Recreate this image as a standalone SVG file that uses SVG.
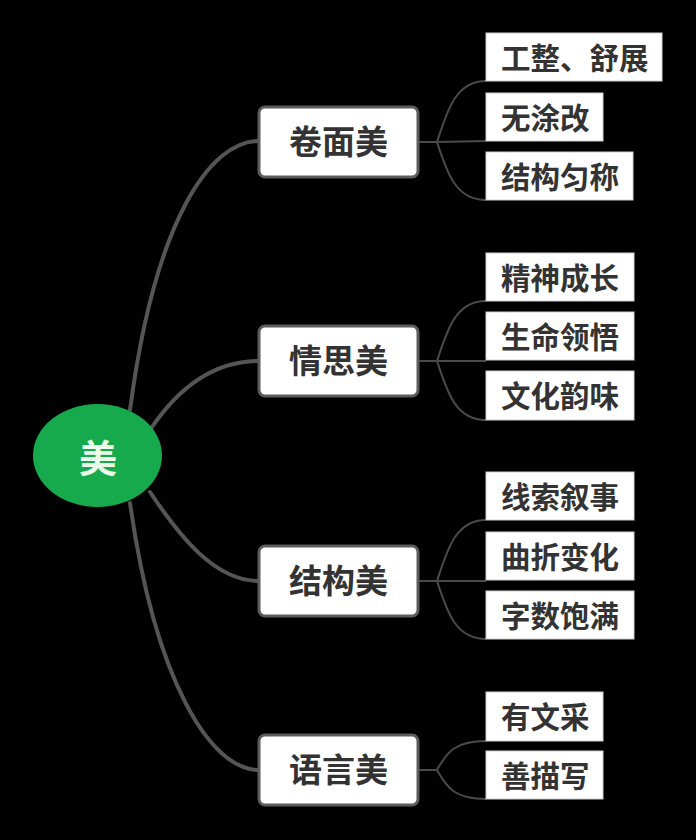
<svg xmlns="http://www.w3.org/2000/svg" width="696" height="840" viewBox="0 0 696 840">
<style>
.bg{fill:#000}
.thick{fill:none;stroke:#555;stroke-width:4;stroke-linecap:round}
.thin{fill:none;stroke:#4a4a4a;stroke-width:2}
.branch rect{fill:#fff;stroke:#5c5c5c;stroke-width:3}
.leaf rect{fill:#fff;stroke:#d0d0d0;stroke-width:1}
text{font-family:"Noto Sans CJK SC","Noto Sans",sans-serif;font-weight:700;dominant-baseline:central}
.bt{font-size:33px;fill:#333;text-anchor:middle}
.lt{font-size:29.5px;fill:#333}
.rt{font-size:38px;fill:#eafbea;text-anchor:middle}
</style>
<rect class="bg" x="0" y="0" width="696" height="840"/>
<g id="connectors">
<path class="thick" d="M130,410 C155,220 210,141 259,141"/>
<path class="thick" d="M150,430 C180,385 215,361 259,361"/>
<path class="thick" d="M150,492 C180,537 215,581 259,581"/>
<path class="thick" d="M130,503 C155,680 210,770 259,770"/>
<path class="thin" d="M418,142 H437 C447,112 455,81 486,81"/>
<path class="thin" d="M418,142 H437 L486,141"/>
<path class="thin" d="M418,142 H437 C447,172 455,200 486,200"/>
<path class="thin" d="M418,361 H437 C447,331 455,301 486,301"/>
<path class="thin" d="M418,361 H486"/>
<path class="thin" d="M418,361 H437 C447,391 455,420 486,420"/>
<path class="thin" d="M418,581 H437 C447,551 455,520 486,520"/>
<path class="thin" d="M418,581 H486"/>
<path class="thin" d="M418,581 H437 C447,611 455,639 486,639"/>
<path class="thin" d="M418,770 H437 C447,752 455,741 486,741"/>
<path class="thin" d="M418,770 H437 C447,788 455,799 486,799"/>
</g>
<g id="root">
<ellipse cx="97.5" cy="455.5" rx="64.5" ry="51.5" fill="#17aa4c"/>
<text class="rt" x="98" y="455">美</text>
</g>
<g id="b1" class="branch"><rect x="259" y="107" width="159" height="70" rx="6"/><text class="bt" x="338.5" y="140">卷面美</text></g>
<g id="b2" class="branch"><rect x="259" y="326" width="159" height="70" rx="6"/><text class="bt" x="338.5" y="359">情思美</text></g>
<g id="b3" class="branch"><rect x="259" y="546" width="159" height="70" rx="6"/><text class="bt" x="338.5" y="579">结构美</text></g>
<g id="b4" class="branch"><rect x="259" y="735" width="159" height="70" rx="6"/><text class="bt" x="338.5" y="768">语言美</text></g>
<g id="l1" class="leaf"><rect x="486" y="33" width="176" height="48"/><text class="lt" x="501" y="55.5">工整、舒展</text></g>
<g id="l2" class="leaf"><rect x="486" y="93" width="117" height="48"/><text class="lt" x="501" y="115.5">无涂改</text></g>
<g id="l3" class="leaf"><rect x="486" y="152" width="147" height="48"/><text class="lt" x="501" y="174.5">结构匀称</text></g>
<g id="l4" class="leaf"><rect x="486" y="253" width="148" height="48"/><text class="lt" x="501" y="275.5">精神成长</text></g>
<g id="l5" class="leaf"><rect x="486" y="312" width="148" height="48"/><text class="lt" x="501" y="334.5">生命领悟</text></g>
<g id="l6" class="leaf"><rect x="486" y="371" width="148" height="49"/><text class="lt" x="501" y="393.5">文化韵味</text></g>
<g id="l7" class="leaf"><rect x="486" y="472" width="148" height="48"/><text class="lt" x="501" y="494.5">线索叙事</text></g>
<g id="l8" class="leaf"><rect x="486" y="532" width="148" height="48"/><text class="lt" x="501" y="554.5">曲折变化</text></g>
<g id="l9" class="leaf"><rect x="486" y="591" width="148" height="48"/><text class="lt" x="501" y="613.5">字数饱满</text></g>
<g id="l10" class="leaf"><rect x="486" y="692" width="117" height="49"/><text class="lt" x="501" y="714.5">有文采</text></g>
<g id="l11" class="leaf"><rect x="486" y="751" width="117" height="48"/><text class="lt" x="501" y="773.5">善描写</text></g>
</svg>
